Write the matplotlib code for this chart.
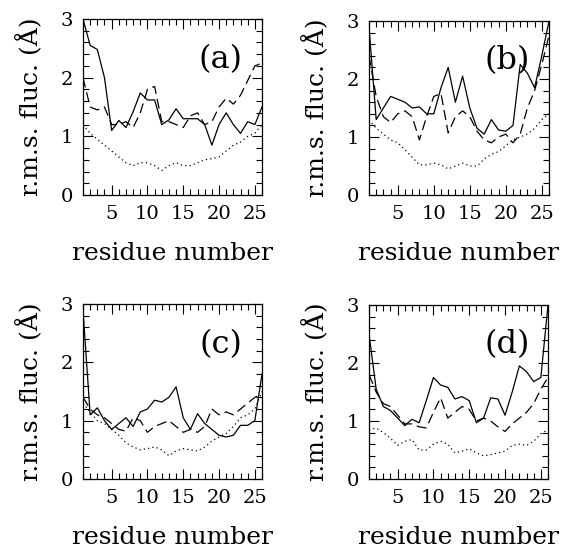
import numpy as np
import matplotlib.pyplot as plt
from matplotlib.ticker import MultipleLocator

plt.rcParams['font.family'] = ['DejaVu Serif']

residue = np.arange(1, 27)

# panel (a)
a_solid = [3.0, 2.55, 2.48, 2.0, 1.1, 1.27, 1.15, 1.42, 1.74, 1.62, 1.62, 1.2, 1.28, 1.47, 1.3,
           1.3, 1.3, 1.2, 0.85, 1.2, 1.4, 1.2, 1.05, 1.25, 1.2, 1.5]
a_dash = [2.0, 1.5, 1.45, 1.5, 1.2, 1.2, 1.25, 1.15, 1.4, 1.8, 1.85, 1.25, 1.25, 1.2, 1.15,
          1.35, 1.4, 1.2, 1.25, 1.5, 1.65, 1.55, 1.7, 1.95, 2.2, 2.25]
a_dot = [1.2, 1.05, 0.95, 0.85, 0.75, 0.65, 0.55, 0.5, 0.55, 0.55, 0.5, 0.42, 0.5, 0.55, 0.5,
         0.5, 0.55, 0.6, 0.62, 0.65, 0.75, 0.85, 0.9, 1.0, 1.05, 1.2]

# panel (b)
b_solid = [2.9, 1.3, 1.5, 1.7, 1.65, 1.6, 1.5, 1.52, 1.4, 1.4, 1.85, 2.2, 1.6, 2.05, 1.5,
           1.15, 1.05, 1.3, 1.12, 1.1, 1.2, 2.25, 2.1, 1.85, 2.4, 3.0]
b_dash = [2.4, 1.7, 1.35, 1.25, 1.4, 1.45, 1.35, 0.95, 1.35, 1.7, 1.75, 1.07, 1.35, 1.45, 1.35,
          1.1, 0.95, 0.9, 1.0, 1.05, 0.9, 1.05, 1.5, 1.8, 2.25, 2.75]
b_dot = [1.3, 1.15, 1.05, 0.95, 0.9, 0.78, 0.65, 0.52, 0.52, 0.55, 0.52, 0.45, 0.5, 0.55, 0.5,
         0.5, 0.62, 0.7, 0.75, 0.85, 0.95, 1.0, 1.05, 1.15, 1.3, 1.4]

# panel (c)
c_solid = [2.9, 1.1, 1.22, 1.0, 0.85, 0.95, 1.05, 0.9, 1.15, 1.2, 1.35, 1.32, 1.4, 1.58, 1.05,
           0.85, 1.12, 0.95, 0.85, 0.75, 0.72, 0.75, 0.92, 0.92, 1.0, 1.8]
c_dash = [1.4, 1.2, 1.1, 1.05, 0.95, 0.85, 0.82, 1.05, 1.0, 0.8, 0.9, 0.95, 1.0, 0.9, 0.8,
          0.85, 0.8, 0.9, 1.2, 1.1, 1.15, 1.1, 1.2, 1.3, 1.4, 1.45]
c_dot = [1.3, 1.15, 1.0, 0.95, 0.85, 0.75, 0.62, 0.55, 0.5, 0.52, 0.55, 0.5, 0.4, 0.48, 0.52,
         0.5, 0.48, 0.55, 0.65, 0.72, 0.78, 0.9, 1.05, 1.1, 1.2, 1.5]

# panel (d)
d_solid = [2.5, 1.55, 1.25, 1.18, 1.05, 0.92, 1.03, 0.97, 1.35, 1.75, 1.62, 1.58, 1.38, 1.42, 1.35,
           0.97, 1.05, 1.4, 1.38, 1.1, 1.5, 1.95, 1.85, 1.68, 1.75, 3.0]
d_dash = [1.8, 1.5, 1.3, 1.25, 1.1, 0.95, 0.95, 0.9, 0.88, 1.15, 1.4, 1.05, 1.15, 1.25, 1.2,
          1.0, 1.05, 1.0, 0.9, 0.82, 0.95, 1.05, 1.15, 1.3, 1.55, 1.75]
d_dot = [0.85, 0.88, 0.8, 0.7, 0.58, 0.65, 0.68, 0.5, 0.5, 0.6, 0.65, 0.6, 0.45, 0.48, 0.52,
         0.45, 0.4, 0.42, 0.45, 0.48, 0.58, 0.6, 0.58, 0.65, 0.78, 0.85]

panels = [('(a)', a_solid, a_dash, a_dot),
          ('(b)', b_solid, b_dash, b_dot),
          ('(c)', c_solid, c_dash, c_dot),
          ('(d)', d_solid, d_dash, d_dot)]

W, H = 571, 551
boxes = [(83, 19, 262, 195), (369, 21, 549, 195),
         (83, 304, 262, 479), (369, 305, 548, 479)]

fig = plt.figure(figsize=(W / 100, H / 100), dpi=100)

for (label, solid, dash, dot), (x0, y0, x1, y1) in zip(panels, boxes):
    ax = fig.add_axes([x0 / W, (H - y1) / H, (x1 - x0) / W, (y1 - y0) / H])
    ax.plot(residue, solid, color='black', lw=0.9)
    ax.plot(residue, dash, color='black', lw=0.9, dashes=(8, 4))
    ax.plot(residue, dot, color='black', lw=0.9, dashes=(1, 2.5))
    ax.set_xlim(1, 26)
    ax.set_ylim(0, 3)
    ax.xaxis.set_major_locator(MultipleLocator(5))
    ax.xaxis.set_minor_locator(MultipleLocator(1))
    ax.yaxis.set_major_locator(MultipleLocator(1))
    ax.yaxis.set_minor_locator(MultipleLocator(0.2))
    ax.tick_params(which='both', direction='in', top=True, right=True, labelsize=14, width=0.8)
    ax.tick_params(which='major', length=7, pad=7)
    ax.tick_params(which='minor', length=4)
    for s in ax.spines.values():
        s.set_linewidth(0.9)
    ax.set_xlabel('residue number', fontsize=18, labelpad=14)
    ax.set_ylabel('r.m.s. fluc. (Å)', fontsize=18, labelpad=13)
    ax.text(0.77, 0.77, label, transform=ax.transAxes, fontsize=23, ha='center', va='center')

fig.savefig('out.png', dpi=100)
